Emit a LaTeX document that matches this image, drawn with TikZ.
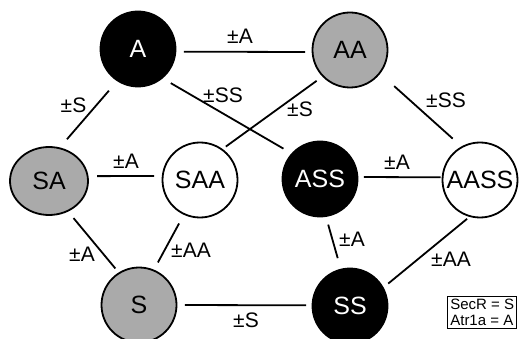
\documentclass[tikz,border=0pt]{standalone}
\usepackage{fontspec}
\setmainfont{Liberation Sans}
\usetikzlibrary{shapes.geometric}
\definecolor{gfill}{RGB}{170,170,170}
\begin{document}
\begin{tikzpicture}[x=1pt,y=-1pt,
  st/.style={circle, draw=black, line width=1.8pt, minimum size=75pt, inner sep=0pt, font=\fontsize{25}{29}\selectfont},
  blk/.style={st, fill=black, text=white},
  gry/.style={st, fill=gfill},
  wht/.style={st, fill=white},
  lnk/.style={line width=1.8pt},
  lbl/.style={anchor=base, inner sep=0pt, font=\fontsize{21}{24}\selectfont},
]
\useasboundingbox (0,0) rectangle (519,339);
\node[blk] (A) at (138,49) {A};
\node[gry] (AA) at (350,50) {AA};
\node[gry, ellipse, minimum width=78pt, minimum height=68pt] (SA) at (49,181) {SA};
\node[wht] (SAA) at (200,180) {SAA};
\node[blk] (ASS) at (320,179) {ASS};
\node[wht] (AASS) at (480,180) {AASS};
\node[gry] (S) at (139,305) {S};
\node[blk] (SS) at (350,306) {SS};

\draw[lnk, shorten <=7.5pt, shorten >=6.5pt] (A.-4) -- (AA.183);
\draw[lnk, shorten <=12.5pt, shorten >=10.8pt] (A.237) -- (SA.72);
\draw[lnk, shorten <=9.4pt, shorten >=9.3pt] (A.-50) -- (ASS.138.5);
\draw[lnk, shorten <=7.1pt, shorten >=4pt] (AA.224) -- (SAA.54);
\draw[lnk, shorten <=18.7pt, shorten >=11.7pt] (AA.-38.5) -- (AASS.119);
\draw[lnk, shorten <=8.5pt, shorten >=7.8pt] (SA.7) -- (SAA.174);
\draw[lnk, shorten <=8.4pt, shorten >=5.2pt] (SA.-58) -- (S.122.6);
\draw[lnk, shorten <=9.9pt, shorten >=8.2pt] (SAA.245) -- (S.67);
\draw[lnk, shorten <=7.5pt, shorten >=5.5pt] (S.0) -- (SS.179);
\draw[lnk, shorten <=5.5pt, shorten >=1pt] (ASS.3) -- (AASS.176);
\draw[lnk, shorten <=8pt, shorten >=11pt] (ASS.-81) -- (SS.104);
\draw[lnk, shorten <=3pt, shorten >=6pt] (AASS.254) -- (SS.29);

\node[lbl] (l1) at (240,44) {±A};
\node[lbl] (l2) at (73.5,113) {±S};
\node[lbl] (l3) at (223,103) {±SS};
\node[lbl] (l4) at (300,117) {±S};
\node[lbl] (l5) at (446,108) {±SS};
\node[lbl] (l6) at (126,169) {±A};
\node[lbl] (l7) at (82,261) {±A};
\node[lbl] (l8) at (191,257) {±AA};
\node[lbl] (l9) at (246,327) {±S};
\node[lbl] (l10) at (397,170) {±A};
\node[lbl] (l11) at (352,246) {±A};
\node[lbl] (l12) at (451,266) {±AA};

\node[draw, line width=0.8pt, align=left, inner sep=2.5pt, font=\fontsize{15}{16}\selectfont, anchor=north east] (leg) at (517,296) {SecR = S\\Atr1a = A};
\end{tikzpicture}
\end{document}
